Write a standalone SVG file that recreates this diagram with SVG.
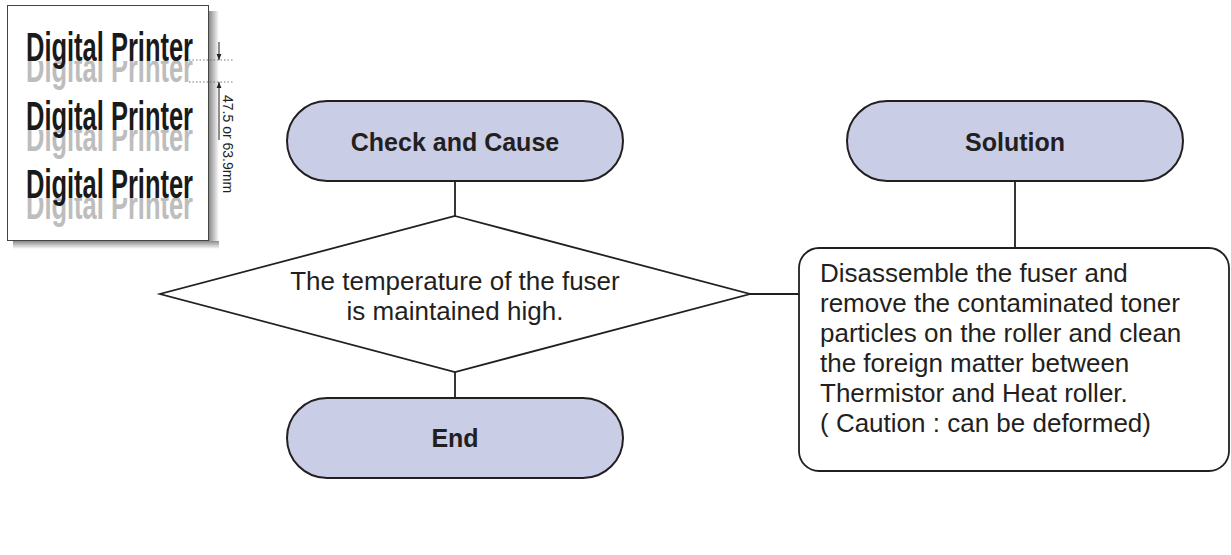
<svg xmlns="http://www.w3.org/2000/svg" width="1231" height="555" viewBox="0 0 1231 555">
  <style>
    .cap { fill: #c9cde6; stroke: #231f20; stroke-width: 2; }
    .shape { fill: #ffffff; stroke: #231f20; stroke-width: 1.8; }
    .link { fill: none; stroke: #231f20; stroke-width: 1.8; }
    .bold { font-family: "Liberation Sans", Arial, sans-serif; font-weight: bold; font-size: 25px; fill: #231f20; text-anchor: middle; }
    .body { font-family: "Liberation Sans", Arial, sans-serif; font-size: 26px; fill: #231f20; }
    .dp { font-family: "Liberation Sans", Arial, sans-serif; font-weight: bold; font-size: 40px; }
    .dim { font-family: "Liberation Sans", Arial, sans-serif; font-size: 14px; fill: #231f20; }
  </style>
  <defs>
    <linearGradient id="shadowR" x1="0" y1="0" x2="1" y2="0">
      <stop offset="0" stop-color="#8a8a8a"/>
      <stop offset="1" stop-color="#ffffff"/>
    </linearGradient>
    <linearGradient id="shadowB" x1="0" y1="0" x2="0" y2="1">
      <stop offset="0" stop-color="#8a8a8a"/>
      <stop offset="1" stop-color="#ffffff"/>
    </linearGradient>
    <clipPath id="ghost1"><rect x="0" y="61" width="212" height="40"/></clipPath>
    <clipPath id="ghost2"><rect x="0" y="130" width="212" height="40"/></clipPath>
    <clipPath id="ghost3"><rect x="0" y="198" width="212" height="40"/></clipPath>
    <marker id="arr" viewBox="0 0 10 10" refX="10" refY="5" markerWidth="6" markerHeight="6" orient="auto">
      <path d="M0,1 L10,5 L0,9 z" fill="#231f20"/>
    </marker>
  </defs>

  <!-- sample print page -->
  <g id="sample-page">
    <rect x="209" y="11" width="10" height="236" fill="url(#shadowR)"/>
    <rect x="13" y="241" width="206" height="8" fill="url(#shadowB)"/>
    <rect x="7.5" y="5.5" width="201" height="235" fill="#ffffff" stroke="#444" stroke-width="1"/>
    <g class="dp" fill="#bdbdbd">
      <text x="26" y="82" textLength="167" lengthAdjust="spacingAndGlyphs" clip-path="url(#ghost1)">Digital Printer</text>
      <text x="26" y="151" textLength="167" lengthAdjust="spacingAndGlyphs" clip-path="url(#ghost2)">Digital Printer</text>
      <text x="26" y="219" textLength="167" lengthAdjust="spacingAndGlyphs" clip-path="url(#ghost3)">Digital Printer</text>
    </g>
    <g class="dp" fill="#1a1a1a">
      <text x="26" y="61" textLength="167" lengthAdjust="spacingAndGlyphs">Digital Printer</text>
      <text x="26" y="130" textLength="167" lengthAdjust="spacingAndGlyphs">Digital Printer</text>
      <text x="26" y="198" textLength="167" lengthAdjust="spacingAndGlyphs">Digital Printer</text>
    </g>
    <!-- line pitch dimension -->
    <g stroke="#555" stroke-width="0.8" stroke-dasharray="1.5,2">
      <line x1="189" y1="60" x2="234" y2="60"/>
      <line x1="189" y1="82" x2="234" y2="82"/>
    </g>
    <line x1="219" y1="42" x2="219" y2="60" stroke="#231f20" stroke-width="1" marker-end="url(#arr)"/>
    <line x1="219" y1="140" x2="219" y2="82" stroke="#231f20" stroke-width="1" marker-end="url(#arr)"/>
    <text class="dim" transform="translate(223,95) rotate(90)">47.5 or 63.9mm</text>
  </g>

  <!-- connectors -->
  <g id="connectors" class="link">
    <line x1="455" y1="181" x2="455" y2="216"/>
    <line x1="455" y1="372" x2="455" y2="398"/>
    <line x1="750" y1="294" x2="799" y2="294"/>
    <line x1="1015" y1="181" x2="1015" y2="248"/>
  </g>

  <g id="check-and-cause">
    <rect class="cap" x="287" y="101" width="336" height="80" rx="40"/>
    <text class="bold" x="455" y="151">Check and Cause</text>
  </g>

  <g id="solution">
    <rect class="cap" x="847" y="101" width="336" height="80" rx="40"/>
    <text class="bold" x="1015" y="151">Solution</text>
  </g>

  <g id="decision">
    <polygon class="shape" points="455,216 750,294 455,372 160,294"/>
    <text class="body" text-anchor="middle" x="455" y="290">The temperature of the fuser</text>
    <text class="body" text-anchor="middle" x="455" y="320">is maintained high.</text>
  </g>

  <g id="remedy">
    <rect class="shape" x="799" y="248" width="430" height="223" rx="20"/>
    <text class="body" x="820" y="282">
      <tspan x="820" y="282">Disassemble the fuser and</tspan>
      <tspan x="820" y="312">remove the contaminated toner</tspan>
      <tspan x="820" y="342">particles on the roller and clean</tspan>
      <tspan x="820" y="372">the foreign matter between</tspan>
      <tspan x="820" y="402">Thermistor and Heat roller.</tspan>
      <tspan x="820" y="432">( Caution : can be deformed)</tspan>
    </text>
  </g>

  <g id="end">
    <rect class="cap" x="287" y="398" width="336" height="80" rx="40"/>
    <text class="bold" x="455" y="447">End</text>
  </g>
</svg>
